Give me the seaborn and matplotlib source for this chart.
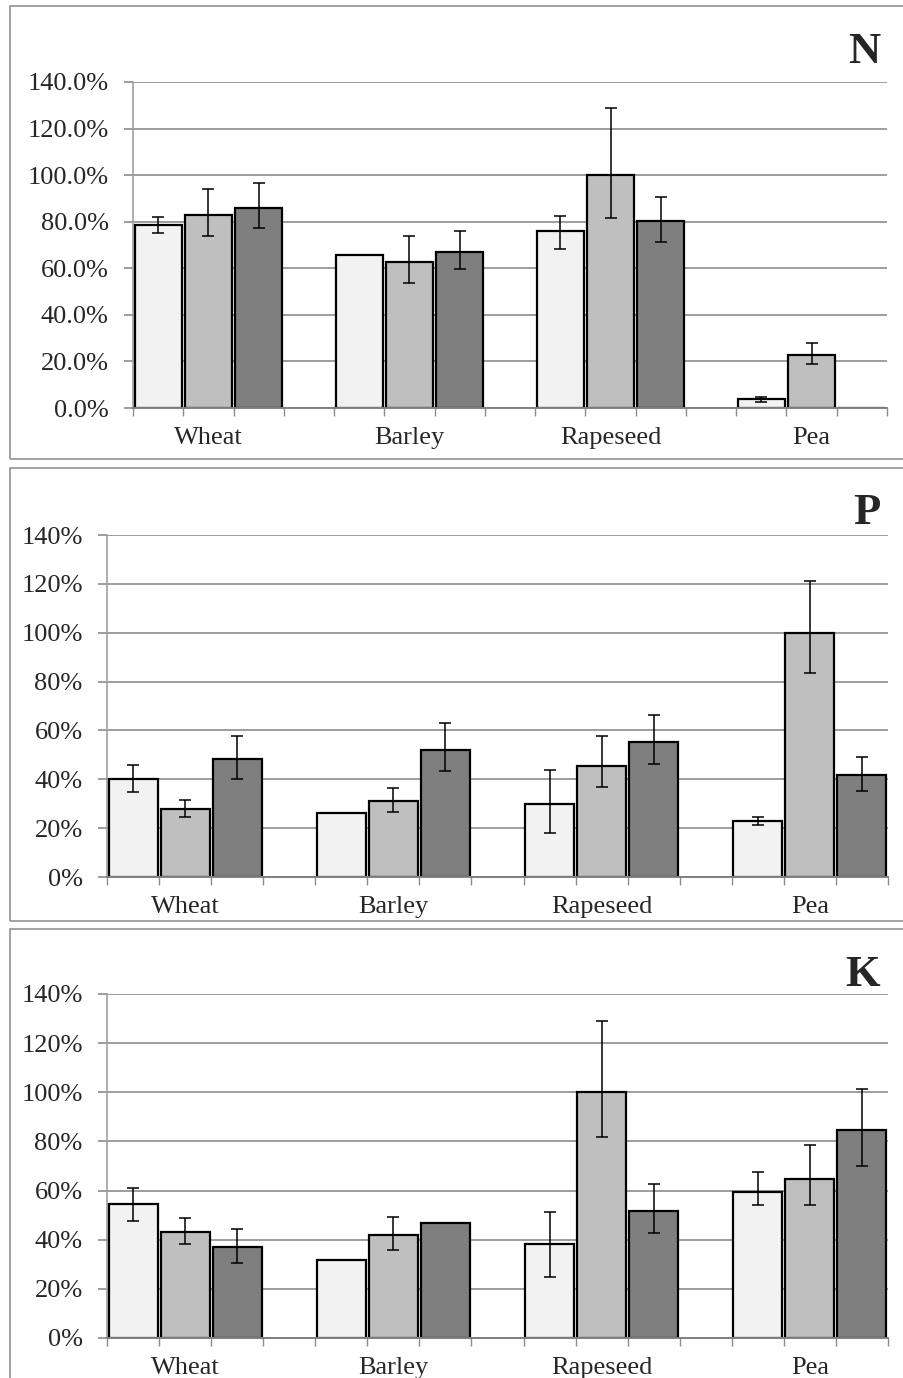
import numpy as np
import pandas as pd
import matplotlib
matplotlib.use('Agg')
import matplotlib.pyplot as plt
from matplotlib.patches import Rectangle
from matplotlib.ticker import FuncFormatter, MultipleLocator
import seaborn as sns

sns.set_theme(style='white')
plt.rcParams['font.family'] = ['Liberation Serif', 'DejaVu Serif']

crops = ['Wheat', 'Barley', 'Rapeseed', 'Pea']
series = ['s1', 's2', 's3']
colors = ['#f2f2f2', '#bfbfbf', '#7f7f7f']
nan = np.nan

# N (percent); low/high are error bar ends
n_mean = [[78.4, 65.9, 75.8, 3.7], [82.8, 62.9, 100.0, 22.9], [85.7, 67.2, 80.5, 0.0]]
n_low = [[75.2, nan, 68.4, 2.6], [73.7, 53.7, 81.8, 19.1], [77.1, 59.8, 71.2, nan]]
n_high = [[82.0, nan, 82.4, 4.9], [94.1, 73.9, 128.7, 27.8], [96.6, 76.2, 90.6, nan]]

# P
p_mean = [[40.2, 26.3, 29.7, 23.0], [27.8, 31.1, 45.3, 100.0], [48.4, 52.1, 55.2, 41.6]]
p_low = [[35.0, nan, 18.0, 21.4], [24.5, 26.7, 36.8, 83.6], [40.2, 43.2, 46.3, 35.4]]
p_high = [[45.9, nan, 43.9, 24.7], [31.5, 36.4, 57.9, 121.1], [57.7, 63.0, 66.4, 49.2]]

# K
k_mean = [[54.5, 31.6, 38.4, 59.6], [43.0, 42.0, 100.0, 64.9], [36.9, 46.8, 51.6, 84.5]]
k_low = [[47.5, 35.8, 25.0, 54.0], [38.4, 35.8, 81.7, 54.0], [30.4, nan, 42.6, 70.1]]
k_low[0][1] = nan
k_high = [[61.1, nan, 51.1, 67.5], [49.0, 49.4, 128.9, 78.5], [44.5, nan, 62.6, 101.2]]

panels = [
    ('N', n_mean, n_low, n_high, '{:.1f}%'),
    ('P', p_mean, p_low, p_high, '{:.0f}%'),
    ('K', k_mean, k_low, k_high, '{:.0f}%'),
]

W, H = 904, 1378
fig = plt.figure(figsize=(W / 100, H / 100), dpi=100)

# axes boxes in pixels: left, right, top(140%), bottom(0%)
boxes = [(133, 887, 82, 408), (107, 888, 535, 877), (107, 888, 994, 1338)]
# outer frames: top, bottom
frames = [(6, 459), (468, 921), (929, 1390)]
letter_y = [63, 524, 986]

grid_c = '#8c8c8c'

for i, (name, mean, low, high, fmt) in enumerate(panels):
    l, r, t, b = boxes[i]
    ax = fig.add_axes([l / W, 1 - b / H, (r - l) / W, (b - t) / H])

    rows = []
    for s, m in zip(series, mean):
        for c, v in zip(crops, m):
            rows.append({'crop': c, 'series': s, 'value': v})
    df = pd.DataFrame(rows)

    sns.barplot(data=df, x='crop', y='value', hue='series', palette=colors,
                width=0.75, gap=0.06, edgecolor='black', linewidth=1.6,
                errorbar=None, legend=False, ax=ax, zorder=3)

    for cont, m, lo, hi in zip(ax.containers, mean, low, high):
        for bar, v, a, z in zip(cont, m, lo, hi):
            if np.isnan(a):
                continue
            xc = bar.get_x() + bar.get_width() / 2
            ax.errorbar(xc, v, yerr=[[v - a], [z - v]], fmt='none',
                        ecolor='black', elinewidth=1.1, capsize=4.5,
                        capthick=1.1, zorder=4)

    ax.set_ylim(0, 140)
    ax.set_xlim(-0.375, 3.375)
    ax.yaxis.set_major_locator(MultipleLocator(20))
    ax.yaxis.set_major_formatter(FuncFormatter(lambda v, p, f=fmt: f.format(v)))
    ax.yaxis.grid(True, color=grid_c, linewidth=1.2)
    ax.set_axisbelow(True)
    ax.set_xlabel('')
    ax.set_ylabel('')

    ax.set_xticks(range(len(crops)))
    ax.set_xticklabels(crops)
    ax.set_xticks(np.arange(-0.375, 3.4, 0.25), minor=True)
    ax.tick_params(axis='x', which='major', length=0, pad=14, labelsize=19)
    ax.tick_params(axis='x', which='minor', length=5.5, width=1, color=grid_c,
                   direction='out', bottom=True)
    ax.tick_params(axis='y', which='major', length=6.5, width=1.2, color=grid_c,
                   direction='out', left=True, pad=11, labelsize=19)

    for sp in ['top', 'right']:
        ax.spines[sp].set_visible(False)
    ax.spines['left'].set_color('#a0a0a0')
    ax.spines['left'].set_linewidth(1.2)
    ax.spines['bottom'].set_color('#808080')
    ax.spines['bottom'].set_linewidth(1.4)
    ax.spines['bottom'].set_zorder(5)

    fig.text(880 / W, 1 - letter_y[i] / H, name, ha='right', va='baseline',
             fontsize=32, fontweight='bold')

    ft, fb = frames[i]
    fig.add_artist(Rectangle((10 / W, 1 - fb / H), (W + 10) / W, (fb - ft) / H,
                             transform=fig.transFigure, fill=False,
                             edgecolor='#8a8a8a', linewidth=1.1))

fig.savefig('out.png', dpi=100)
